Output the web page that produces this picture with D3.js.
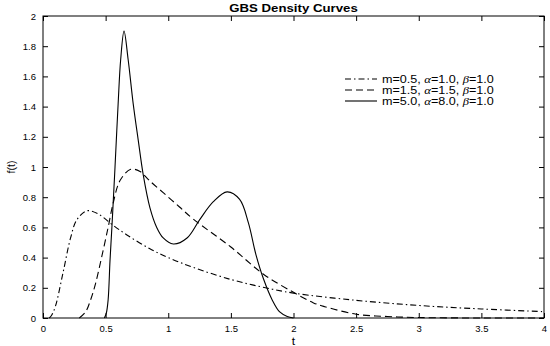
<!DOCTYPE html>
<html>
<head>
<meta charset="utf-8">
<script src="https://cdn.jsdelivr.net/npm/d3@7"></script>
<style>
  body { margin: 0; background: #fff; }
  text { font-family: "Liberation Sans", Arial, sans-serif; fill: #000; }
</style>
</head>
<body>
<div id="chart"></div>
<script>
// values
var xTicks = [0, 0.5, 1, 1.5, 2, 2.5, 3, 3.5, 4];
var yTicks = [0, 0.2, 0.4, 0.6, 0.8, 1, 1.2, 1.4, 1.6, 1.8, 2];

var tDashDot = [0.05, 0.07, 0.1, 0.16, 0.22, 0.27, 0.35, 0.44, 0.55, 0.67, 0.85, 1.0, 1.2, 1.5, 1.75, 2.0, 2.5, 3.0, 3.5, 4.0];
var fDashDot = [0, 0.02, 0.08, 0.30, 0.53, 0.65, 0.71, 0.69, 0.62, 0.55, 0.46, 0.40, 0.335, 0.255, 0.205, 0.165, 0.117, 0.083, 0.06, 0.042];

var tDashed = [0.29, 0.34, 0.38, 0.42, 0.47, 0.52, 0.56, 0.615, 0.70, 0.775, 0.85, 0.96, 1.09, 1.2, 1.5, 1.76, 2.0, 2.16, 2.25, 2.5, 2.75, 3.0, 3.5, 4.0];
var fDashed = [0, 0.04, 0.12, 0.23, 0.41, 0.60, 0.76, 0.91, 0.985, 0.97, 0.91, 0.83, 0.735, 0.655, 0.47, 0.29, 0.17, 0.10, 0.075, 0.025, 0.01, 0.003, 0, 0];

var tSolid = [0.49, 0.505, 0.52, 0.535, 0.55, 0.567, 0.575, 0.60, 0.62, 0.647, 0.68, 0.72, 0.76, 0.80, 0.854, 0.908, 0.96, 1.04, 1.15, 1.25, 1.36, 1.47, 1.57, 1.64, 1.70, 1.76, 1.83, 1.89, 1.95, 2.0];
var fSolid = [0, 0.03, 0.12, 0.38, 0.6, 0.87, 1.0, 1.42, 1.71, 1.90, 1.71, 1.42, 1.18, 0.95, 0.73, 0.6, 0.53, 0.49, 0.53, 0.65, 0.77, 0.835, 0.785, 0.63, 0.42, 0.26, 0.12, 0.04, 0.01, 0];

var seriesNames = ["m=0.5, ", "m=1.5, ", "m=5.0, "];
var alphaVals = ["=1.0, ", "=1.5, ", "=8.0, "];
var betaVals = ["=1.0", "=1.0", "=1.0"];
var dashes = ["6,3,1.5,3", "7,4", null];

var svgWidth = 550;
var svgHeight = 346;

var margin = { top: 16, right: 6, bottom: 28, left: 43 };
var chartWidth = svgWidth - margin.left - margin.right;
var chartHeight = svgHeight - margin.top - margin.bottom;

// the original figure is a bit stretched sideways, so texts get a x-scale
var stretch = 1.15;

var svg = d3.select("#chart")
  .append("svg")
  .attr("width", svgWidth)
  .attr("height", svgHeight);

var chartGroup = svg.append("g")
  .attr("transform", `translate(${margin.left}, ${margin.top})`);

var xScale = d3.scaleLinear().domain([0, 4]).range([0, chartWidth]);
var yScale = d3.scaleLinear().domain([0, 2]).range([chartHeight, 0]);

// axes with inward ticks on all four sides
var xAxis = d3.axisBottom(xScale).tickValues(xTicks).tickFormat(d => String(d))
  .tickSizeInner(-5).tickSizeOuter(0).tickPadding(7);
var yAxis = d3.axisLeft(yScale).tickValues(yTicks).tickFormat(d => String(d))
  .tickSizeInner(-5).tickSizeOuter(0).tickPadding(7);

chartGroup.append("g")
  .attr("transform", `translate(0, ${chartHeight})`)
  .call(xAxis);
chartGroup.append("g").call(yAxis);

chartGroup.append("g")
  .call(d3.axisTop(xScale).tickValues(xTicks).tickFormat("").tickSizeInner(-5).tickSizeOuter(0));
chartGroup.append("g")
  .attr("transform", `translate(${chartWidth}, 0)`)
  .call(d3.axisRight(yScale).tickValues(yTicks).tickFormat("").tickSizeInner(-5).tickSizeOuter(0));

chartGroup.selectAll(".domain").remove();
chartGroup.selectAll(".tick line").attr("stroke", "#000");
chartGroup.selectAll(".tick text")
  .style("font-size", "9.5px")
  .style("font-family", "'Liberation Sans', Arial, sans-serif");

chartGroup.append("rect")
  .attr("width", chartWidth)
  .attr("height", chartHeight)
  .attr("fill", "none")
  .attr("stroke", "#000")
  .attr("stroke-width", 1);

// curves
var line = d3.line()
  .x(d => xScale(d[0]))
  .y(d => yScale(Math.max(0, d[1])))
  .curve(d3.curveCatmullRom.alpha(0.5));

var curves = [
  d3.zip(tDashDot, fDashDot),
  d3.zip(tDashed, fDashed),
  d3.zip(tSolid, fSolid)
];

chartGroup.selectAll(".curve")
  .data(curves)
  .enter()
  .append("path")
  .attr("class", "curve")
  .attr("d", line)
  .attr("fill", "none")
  .attr("stroke", "#000")
  .attr("stroke-width", 1.1)
  .attr("stroke-dasharray", (d, i) => dashes[i]);

// legend
var legend = svg.append("g");
var rowY = [79, 90, 101];

seriesNames.forEach(function(name, i) {
  legend.append("line")
    .attr("x1", 345).attr("x2", 377)
    .attr("y1", rowY[i]).attr("y2", rowY[i])
    .attr("stroke", "#000")
    .attr("stroke-width", 1.1)
    .attr("stroke-dasharray", dashes[i]);

  var t = legend.append("text")
    .attr("transform", `translate(382, ${rowY[i] + 3.5}) scale(1.2, 1)`)
    .style("font-size", "10.5px");
  t.append("tspan").text(name);
  t.append("tspan").style("font-family", "'Liberation Serif', serif").style("font-style", "italic").text("α");
  t.append("tspan").text(alphaVals[i]);
  t.append("tspan").style("font-family", "'Liberation Serif', serif").style("font-style", "italic").text("β");
  t.append("tspan").text(betaVals[i]);
});

// titles
svg.append("text")
  .attr("transform", `translate(${margin.left + chartWidth / 2}, 12) scale(${stretch}, 1)`)
  .attr("text-anchor", "middle")
  .style("font-size", "11.5px")
  .style("font-weight", "bold")
  .text("GBS Density Curves");

svg.append("text")
  .attr("transform", `translate(${margin.left + chartWidth / 2}, 344.5) scale(${stretch}, 1)`)
  .attr("text-anchor", "middle")
  .style("font-size", "10.5px")
  .text("t");

svg.append("text")
  .attr("transform", `translate(15, ${margin.top + chartHeight / 2}) rotate(-90)`)
  .attr("text-anchor", "middle")
  .style("font-size", "10.5px")
  .text("f(t)");
</script>
</body>
</html>
